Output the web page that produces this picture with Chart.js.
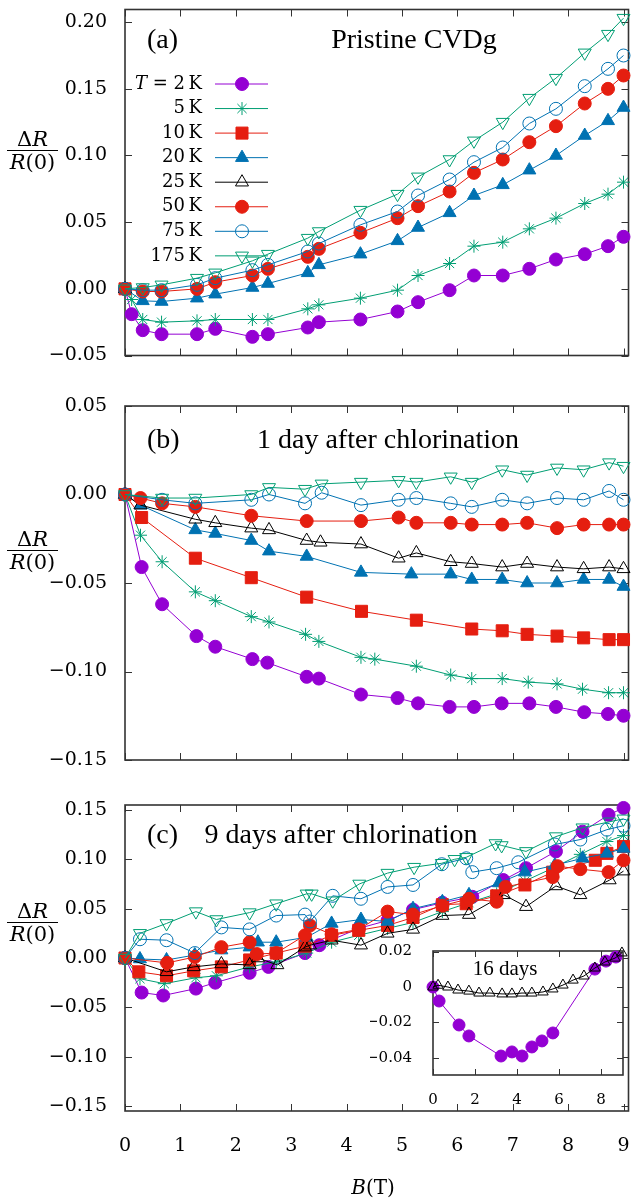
<!DOCTYPE html>
<html>
<head>
<meta charset="utf-8">
<script src="https://cdn.jsdelivr.net/npm/chart.js@4/dist/chart.umd.min.js"></script>
<style>
  body { margin: 0; background: #fff; width: 638px; height: 1204px; position: relative; overflow: hidden; }
  canvas { position: absolute; }
  .t { position: absolute; font: 28px 'Liberation Serif', serif; line-height: 1; transform: translateY(-50%); white-space: nowrap; z-index: 5; }
  .t.c { transform: translate(-50%, -50%); }
  .frac { position: absolute; left: 7px; width: 51px; font: 21px 'DejaVu Serif', serif; text-align: center; line-height: 22px; z-index: 5; }
  .frac .bar { height: 1px; background: #000; }
  .ax { position: absolute; font: 20px 'DejaVu Serif', serif; line-height: 1; transform: translate(-50%, -50%); white-space: nowrap; z-index: 5; }
</style>
</head>
<body>
<canvas id="panelA" width="638" height="365" style="left:0;top:0"></canvas>
<canvas id="panelB" width="638" height="375" style="left:0;top:395px"></canvas>
<canvas id="panelC" width="638" height="409" style="left:0;top:795px"></canvas>
<canvas id="inset" width="268" height="175" style="left:370px;top:935px"></canvas>

<div class="t" style="left:147px;top:39px">(a)</div>
<div class="t c" style="left:414px;top:39px">Pristine CVDg</div>
<div class="t" style="left:147px;top:439px">(b)</div>
<div class="t c" style="left:388px;top:439px">1 day after chlorination</div>
<div class="t" style="left:147px;top:834px">(c)</div>
<div class="t c" style="left:341px;top:834px">9 days after chlorination</div>
<div class="t c" style="left:505px;top:968px;font-size:21px">16 days</div>

<div class="frac" style="top:128px"><div>Δ<i>R</i></div><div class="bar"></div><div><i>R</i>(0)</div></div>
<div class="frac" style="top:528px"><div>Δ<i>R</i></div><div class="bar"></div><div><i>R</i>(0)</div></div>
<div class="frac" style="top:900px"><div>Δ<i>R</i></div><div class="bar"></div><div><i>R</i>(0)</div></div>
<div class="ax" style="left:373px;top:1187px"><i>B</i>(T)</div>

<script>
// tick labels
const xTicks = [0, 1, 2, 3, 4, 5, 6, 7, 8, 9];
const yTicksA = [-0.05, 0, 0.05, 0.10, 0.15, 0.20];
const yTicksB = [-0.15, -0.10, -0.05, 0, 0.05];
const yTicksC = [-0.15, -0.10, -0.05, 0, 0.05, 0.10, 0.15];
const insetXTicks = [0, 2, 4, 6, 8];
const insetYTicks = [-0.04, -0.02, 0, 0.02];
const temperatures = ['2', '5', '10', '20', '25', '50', '75', '175'];

// (a) pristine CVDg
const a2K_B = [0, 0.12, 0.32, 0.66, 1.3, 1.63, 2.3, 2.58, 3.3, 3.5, 4.25, 4.92, 5.29, 5.86, 6.3, 6.82, 7.3, 7.78, 8.3, 8.72, 9.0];
const a2K_R = [0, -0.019, -0.031, -0.034, -0.034, -0.030, -0.036, -0.034, -0.029, -0.025, -0.023, -0.017, -0.010, -0.001, 0.010, 0.010, 0.015, 0.022, 0.026, 0.032, 0.039];
const a5K_B = [0, 0.12, 0.32, 0.66, 1.3, 1.63, 2.3, 2.58, 3.3, 3.5, 4.25, 4.92, 5.29, 5.86, 6.3, 6.82, 7.3, 7.78, 8.3, 8.72, 9.0];
const a5K_R = [0, -0.008, -0.023, -0.025, -0.024, -0.023, -0.023, -0.023, -0.015, -0.012, -0.007, -0.001, 0.010, 0.019, 0.032, 0.035, 0.045, 0.053, 0.064, 0.071, 0.080];
const a10K_B = [0];
const a10K_R = [0];
const a20K_B = [0, 0.32, 0.66, 1.3, 1.63, 2.3, 2.58, 3.3, 3.5, 4.25, 4.92, 5.29, 5.86, 6.3, 6.82, 7.3, 7.78, 8.3, 8.72, 9.0];
const a20K_R = [0, -0.009, -0.0095, -0.007, -0.004, 0.001, 0.004, 0.012, 0.018, 0.026, 0.036, 0.046, 0.057, 0.070, 0.078, 0.089, 0.100, 0.115, 0.126, 0.136];
const a25K_B = [0];
const a25K_R = [0];
const a50K_B = [0, 0.32, 0.66, 1.3, 1.63, 2.3, 2.58, 3.3, 3.5, 4.25, 4.92, 5.29, 5.86, 6.3, 6.82, 7.3, 7.78, 8.3, 8.72, 9.0];
const a50K_R = [0, -0.002, -0.002, 0.000, 0.005, 0.010, 0.015, 0.024, 0.030, 0.042, 0.053, 0.062, 0.073, 0.087, 0.097, 0.110, 0.122, 0.139, 0.150, 0.160];
const a75K_B = [0, 0.32, 0.66, 1.3, 1.63, 2.3, 2.58, 3.3, 3.5, 4.25, 4.92, 5.29, 5.86, 6.3, 6.82, 7.3, 7.78, 8.3, 8.72, 9.0];
const a75K_R = [0, -0.001, -0.001, 0.003, 0.008, 0.014, 0.018, 0.028, 0.034, 0.048, 0.058, 0.070, 0.082, 0.095, 0.106, 0.124, 0.135, 0.152, 0.165, 0.175];
const a175K_B = [0, 0.32, 0.66, 1.3, 1.63, 2.3, 2.58, 3.3, 3.5, 4.25, 4.92, 5.29, 5.86, 6.3, 6.82, 7.3, 7.78, 8.3, 8.72, 9.0];
const a175K_R = [0, 0.001, 0.003, 0.008, 0.012, 0.021, 0.026, 0.038, 0.043, 0.059, 0.071, 0.084, 0.097, 0.111, 0.125, 0.143, 0.158, 0.177, 0.191, 0.203];

// (b) 1 day after chlorination
const b2K_B = [0, 0.30, 0.67, 1.29, 1.63, 2.3, 2.57, 3.28, 3.5, 4.26, 4.92, 5.29, 5.86, 6.30, 6.80, 7.30, 7.78, 8.29, 8.72, 9.0];
const b2K_R = [0, -0.041, -0.062, -0.080, -0.086, -0.093, -0.095, -0.103, -0.104, -0.113, -0.115, -0.118, -0.120, -0.120, -0.118, -0.118, -0.120, -0.123, -0.124, -0.125];
const b5K_B = [0, 0.28, 0.67, 1.27, 1.63, 2.28, 2.6, 3.26, 3.5, 4.26, 4.51, 5.26, 5.88, 6.26, 6.81, 7.28, 7.80, 8.26, 8.73, 9.0];
const b5K_R = [0, -0.023, -0.038, -0.055, -0.060, -0.069, -0.072, -0.079, -0.083, -0.092, -0.093, -0.097, -0.102, -0.104, -0.104, -0.106, -0.107, -0.110, -0.112, -0.112];
const b10K_B = [0, 0.30, 1.27, 2.28, 3.28, 4.27, 5.26, 6.26, 6.81, 7.26, 7.80, 8.28, 8.74, 9.0];
const b10K_R = [0, -0.013, -0.036, -0.047, -0.058, -0.066, -0.071, -0.076, -0.077, -0.079, -0.080, -0.081, -0.082, -0.082];
const b20K_B = [0, 0.28, 1.27, 1.63, 2.28, 2.6, 3.28, 4.26, 5.17, 5.88, 6.26, 6.81, 7.26, 7.80, 8.28, 8.74, 9.0];
const b20K_R = [0, -0.006, -0.020, -0.022, -0.026, -0.032, -0.035, -0.044, -0.045, -0.045, -0.048, -0.048, -0.050, -0.050, -0.048, -0.048, -0.052];
const b25K_B = [0, 0.28, 1.27, 1.63, 2.28, 2.6, 3.28, 3.53, 4.26, 4.94, 5.26, 5.88, 6.26, 6.81, 7.26, 7.80, 8.28, 8.74, 9.0];
const b25K_R = [0, -0.006, -0.014, -0.016, -0.019, -0.020, -0.026, -0.027, -0.028, -0.036, -0.033, -0.038, -0.039, -0.041, -0.039, -0.041, -0.042, -0.041, -0.042];
const b50K_B = [0, 0.28, 0.67, 1.27, 2.28, 3.28, 4.26, 4.94, 5.26, 5.88, 6.26, 6.81, 7.26, 7.80, 8.28, 8.74, 9.0];
const b50K_R = [0, -0.002, -0.005, -0.007, -0.012, -0.015, -0.015, -0.013, -0.016, -0.016, -0.017, -0.017, -0.016, -0.019, -0.017, -0.017, -0.017];
const b75K_B = [0, 0.67, 1.27, 2.28, 2.6, 3.25, 3.55, 4.26, 4.94, 5.26, 5.88, 6.26, 6.81, 7.26, 7.80, 8.28, 8.74, 9.0];
const b75K_R = [0, -0.003, -0.005, -0.003, 0.000, -0.005, 0.001, -0.006, -0.003, -0.002, -0.005, -0.007, -0.003, -0.005, -0.002, -0.003, 0.002, -0.003];
const b175K_B = [0, 0.67, 1.27, 2.28, 2.6, 3.25, 3.55, 4.26, 4.94, 5.26, 5.88, 6.26, 6.81, 7.26, 7.80, 8.28, 8.74, 9.0];
const b175K_R = [0, -0.002, -0.002, 0.000, 0.004, 0.003, 0.006, 0.007, 0.008, 0.007, 0.010, 0.007, 0.014, 0.011, 0.015, 0.014, 0.018, 0.016];

// (c) 9 days after chlorination
const c2K_B = [0, 0.3, 0.69, 1.28, 1.63, 2.25, 2.59, 3.25, 3.51, 4.22, 4.74, 5.2, 5.73, 6.27, 6.83, 7.24, 7.78, 8.26, 8.73, 9.0];
const c2K_R = [0, -0.035, -0.038, -0.031, -0.025, -0.015, -0.009, 0.005, 0.013, 0.030, 0.038, 0.049, 0.056, 0.062, 0.079, 0.091, 0.108, 0.128, 0.145, 0.152];
const c5K_B = [0, 0.27, 0.71, 1.28, 1.65, 2.25, 2.73, 3.28, 3.73, 4.22, 4.74, 5.2, 5.73, 6.21, 6.71, 7.22, 7.76, 8.22, 8.7, 9.0];
const c5K_R = [0, -0.021, -0.026, -0.020, -0.018, -0.009, -0.004, 0.005, 0.016, 0.023, 0.030, 0.036, 0.047, 0.056, 0.065, 0.078, 0.092, 0.105, 0.118, 0.124];
const c10K_B = [0, 0.25, 0.75, 1.24, 1.74, 2.25, 2.73, 3.25, 3.73, 4.22, 4.74, 5.2, 5.73, 6.16, 6.71, 7.22, 7.72, 8.49, 8.70, 9.0];
const c10K_R = [0, -0.014, -0.018, -0.013, -0.009, -0.002, 0.005, 0.012, 0.023, 0.028, 0.033, 0.041, 0.054, 0.055, 0.063, 0.074, 0.087, 0.099, 0.106, 0.113];
const c20K_B = [0, 0.27, 0.75, 1.26, 1.74, 2.25, 2.4, 2.73, 3.28, 3.73, 4.26, 4.74, 5.2, 5.73, 6.21, 6.75, 7.22, 7.76, 8.26, 8.70, 9.0];
const c20K_R = [0, -0.001, -0.002, 0.003, 0.008, 0.011, 0.016, 0.016, 0.021, 0.035, 0.039, 0.037, 0.050, 0.057, 0.064, 0.076, 0.087, 0.094, 0.101, 0.106, 0.111];
const c25K_B = [0, 0.75, 1.24, 1.74, 2.25, 2.4, 2.75, 3.25, 3.34, 3.73, 4.26, 4.74, 5.2, 5.73, 6.21, 6.84, 7.24, 7.78, 8.22, 8.75, 9.0];
const c25K_R = [0, -0.014, -0.009, -0.006, -0.007, 0.000, -0.007, 0.011, 0.013, 0.018, 0.013, 0.025, 0.029, 0.043, 0.044, 0.064, 0.052, 0.073, 0.064, 0.079, 0.088];
const c50K_B = [0, 0.76, 1.26, 1.74, 2.25, 2.38, 2.73, 3.25, 3.34, 3.73, 4.22, 4.74, 5.2, 5.73, 6.21, 6.71, 6.87, 7.72, 7.81, 8.22, 8.73, 9.0];
const c50K_R = [0, -0.005, 0.001, 0.011, 0.016, 0.004, 0.005, 0.023, 0.033, 0.024, 0.029, 0.047, 0.044, 0.053, 0.060, 0.057, 0.072, 0.082, 0.093, 0.090, 0.087, 0.099];
const c75K_B = [0, 0.27, 0.75, 1.26, 1.74, 2.25, 2.73, 3.25, 3.34, 3.75, 4.26, 4.74, 5.2, 5.72, 6.16, 6.27, 6.71, 7.1, 7.76, 8.22, 8.70, 9.0];
const c75K_R = [0, 0.019, 0.018, 0.005, 0.031, 0.029, 0.043, 0.044, 0.037, 0.063, 0.060, 0.072, 0.074, 0.095, 0.101, 0.087, 0.091, 0.097, 0.115, 0.120, 0.130, 0.134];
const c175K_B = [0, 0.27, 0.75, 1.28, 1.65, 2.25, 2.73, 3.28, 3.37, 3.75, 4.23, 4.74, 5.22, 5.72, 5.95, 6.16, 6.69, 6.80, 7.24, 7.78, 8.26, 8.75, 9.0];
const c175K_R = [0, 0.025, 0.035, 0.047, 0.039, 0.046, 0.055, 0.065, 0.065, 0.058, 0.075, 0.086, 0.092, 0.096, 0.100, 0.102, 0.116, 0.114, 0.108, 0.123, 0.132, 0.138, 0.141];

// inset: 16 days
const in2K_B = [0, 0.29, 1.24, 1.71, 3.24, 3.76, 4.24, 4.71, 5.19, 5.71, 7.71, 8.24, 8.71];
const in2K_R = [0, -0.0079, -0.0214, -0.0276, -0.0389, -0.0366, -0.0389, -0.0338, -0.0304, -0.0259, 0.0101, 0.0146, 0.0169];
const in25K_B = [0, 0.24, 0.71, 1.19, 1.71, 2.19, 2.71, 3.29, 3.76, 4.24, 4.71, 5.24, 5.71, 6.19, 6.67, 7.19, 7.71, 8.19, 8.67, 9.0];
const in25K_R = [0, 0.001, 0, -0.0017, -0.0023, -0.0034, -0.0034, -0.0039, -0.0039, -0.0034, -0.0034, -0.0028, -0.0011, 0.0011, 0.0039, 0.0062, 0.0107, 0.0141, 0.0163, 0.0192];

const STYLES = [
  { color: '#9400d3', point: 'circle', fill: true, r: 6.5 },
  { color: '#009e73', point: 'star', fill: false, r: 6.5 },
  { color: '#e51e10', point: 'rect', fill: true, r: 8.5 },
  { color: '#0072b2', point: 'triangle', fill: true, r: 7.5 },
  { color: '#000000', point: 'triangle', fill: false, r: 7.5 },
  { color: '#e51e10', point: 'circle', fill: true, r: 6.5 },
  { color: '#0072b2', point: 'circle', fill: false, r: 6.5 },
  { color: '#009e73', point: 'triangle', fill: false, r: 7.5, rot: 180 },
];

const TICK_FONT = { family: 'DejaVu Serif', size: 19 };

function toPoints(bs, rs) {
  return bs.map((b, i) => ({ x: b, y: rs[i] }));
}

function makeDataset(bs, rs, i, label, scale = 1) {
  const s = STYLES[i];
  return {
    label,
    data: toPoints(bs, rs),
    borderColor: s.color,
    backgroundColor: s.color,
    borderWidth: 1,
    pointStyle: s.point,
    pointRadius: s.r * scale,
    pointRotation: s.rot || 0,
    pointBackgroundColor: s.fill ? s.color : 'rgba(0,0,0,0)',
    pointBorderColor: s.color,
    pointBorderWidth: 1,
    tension: 0,
    clip: false,
    order: -i,
  };
}

function buildDatasets(series) {
  return series.map(([bs, rs], i) => makeDataset(bs, rs, i, temperatures[i] + ' K'));
}

function fmt(v) {
  return v.toFixed(2).replace('-', '\u2212');
}

const framePlugin = {
  id: 'frame',
  beforeDatasetsDraw(chart, args, opts) {
    const { ctx, chartArea: a } = chart;
    const x = chart.scales.x, y = chart.scales.y;
    const len = opts.tick || 7;
    ctx.save();
    if (opts.fill) {
      ctx.fillStyle = '#fff';
      ctx.fillRect(a.left, a.top, a.right - a.left, a.bottom - a.top);
    }
    ctx.strokeStyle = '#333';
    ctx.lineWidth = 1;
    ctx.beginPath();
    x.ticks.forEach(t => {
      const px = Math.round(x.getPixelForValue(t.value)) + 0.5;
      ctx.moveTo(px, a.bottom); ctx.lineTo(px, a.bottom - len);
      ctx.moveTo(px, a.top); ctx.lineTo(px, a.top + len);
    });
    y.ticks.forEach(t => {
      const py = Math.round(y.getPixelForValue(t.value)) + 0.5;
      ctx.moveTo(a.left, py); ctx.lineTo(a.left + len, py);
      ctx.moveTo(a.right, py); ctx.lineTo(a.right - len, py);
    });
    ctx.stroke();
    ctx.lineWidth = 1.6;
    ctx.strokeRect(a.left, a.top, a.right - a.left, a.bottom - a.top);
    ctx.restore();
  },
};

// legend of panel (a): text on the left, line sample with marker on the right
const sideLegend = {
  id: 'sideLegend',
  afterDatasetsDraw(chart) {
    const ctx = chart.ctx;
    ctx.save();
    chart.data.datasets.forEach((ds, i) => {
      const y = 84 + i * 24.55;
      ctx.strokeStyle = ds.borderColor;
      ctx.lineWidth = 1;
      ctx.beginPath();
      ctx.moveTo(215, y);
      ctx.lineTo(268, y);
      ctx.stroke();
      ctx.fillStyle = ds.pointBackgroundColor;
      ctx.strokeStyle = ds.pointBorderColor;
      Chart.helpers.drawPoint(ctx, {
        pointStyle: ds.pointStyle, rotation: ds.pointRotation, radius: ds.pointRadius, borderWidth: 1,
      }, 242, y);

      ctx.fillStyle = '#000';
      ctx.textBaseline = 'middle';
      ctx.textAlign = 'right';
      ctx.font = '18px "DejaVu Serif"';
      const txt = (i === 0 ? ' = ' : '') + temperatures[i] + '\u2009K';
      ctx.fillText(txt, 202, y);
      if (i === 0) {
        const w = ctx.measureText(txt).width;
        ctx.font = 'italic 18px "DejaVu Serif"';
        ctx.fillText('T', 202 - w, y);
      }
    });
    ctx.restore();
  },
};

function makePanel(id, datasets, cfg) {
  return new Chart(document.getElementById(id), {
    type: 'line',
    data: { datasets },
    options: {
      responsive: false,
      animation: false,
      events: [],
      layout: { padding: cfg.padding },
      plugins: {
        legend: { display: false },
        tooltip: { enabled: false },
        frame: { tick: cfg.tickLen || 7, fill: !!cfg.fill },
      },
      scales: {
        x: {
          type: 'linear',
          min: cfg.xMin,
          max: cfg.xMax,
          grid: { display: false },
          border: { display: false },
          afterBuildTicks: s => { s.ticks = cfg.xTicks.map(v => ({ value: v })); },
          ticks: {
            display: cfg.showX,
            autoSkip: false,
            maxRotation: 0,
            color: '#000',
            font: cfg.font || TICK_FONT,
            padding: cfg.xPad,
            callback: v => String(v),
          },
          afterFit: s => { s.height = cfg.xHeight; s.paddingLeft = 0; s.paddingRight = 0; },
        },
        y: {
          type: 'linear',
          min: cfg.yMin,
          max: cfg.yMax,
          grid: { display: false },
          border: { display: false },
          afterBuildTicks: s => { s.ticks = cfg.yTicks.map(v => ({ value: v })); },
          ticks: {
            autoSkip: false,
            color: '#000',
            font: cfg.font || TICK_FONT,
            padding: cfg.yPad,
            callback: cfg.yFmt || fmt,
          },
          afterFit: s => { s.width = cfg.yWidth; s.paddingTop = 0; s.paddingBottom = 0; },
        },
      },
    },
    plugins: [framePlugin].concat(cfg.extra || []),
  });
}

makePanel('panelA', buildDatasets([
  [a2K_B, a2K_R], [a5K_B, a5K_R], [a10K_B, a10K_R], [a20K_B, a20K_R],
  [a25K_B, a25K_R], [a50K_B, a50K_R], [a75K_B, a75K_R], [a175K_B, a175K_R],
]), {
  padding: { top: 6, bottom: 5, left: 0, right: 1 },
  xMin: 0, xMax: 9.09, xTicks, showX: false, xHeight: 0, xPad: 0,
  yMin: -0.05, yMax: 0.2095, yTicks: yTicksA, yWidth: 125, yPad: 10,
  extra: [sideLegend],
});

makePanel('panelB', buildDatasets([
  [b2K_B, b2K_R], [b5K_B, b5K_R], [b10K_B, b10K_R], [b20K_B, b20K_R],
  [b25K_B, b25K_R], [b50K_B, b50K_R], [b75K_B, b75K_R], [b175K_B, b175K_R],
]), {
  padding: { top: 11, bottom: 10, left: 0, right: 1 },
  xMin: 0, xMax: 9.09, xTicks, showX: false, xHeight: 0, xPad: 0,
  yMin: -0.15, yMax: 0.05, yTicks: yTicksB, yWidth: 125, yPad: 10,
});

makePanel('panelC', buildDatasets([
  [c2K_B, c2K_R], [c5K_B, c5K_R], [c10K_B, c10K_R], [c20K_B, c20K_R],
  [c25K_B, c25K_R], [c50K_B, c50K_R], [c75K_B, c75K_R], [c175K_B, c175K_R],
]), {
  padding: { top: 10, bottom: 0, left: 0, right: 1 },
  xMin: 0, xMax: 9.09, xTicks, showX: true, xHeight: 93, xPad: 16,
  yMin: -0.155, yMax: 0.155, yTicks: yTicksC, yWidth: 125, yPad: 10,
});

makePanel('inset', [
  makeDataset(in2K_B, in2K_R, 0, '2 K', 0.92),
  makeDataset(in25K_B, in25K_R, 4, '25 K', 0.8),
], {
  padding: { top: 16, bottom: 0, left: 0, right: 15 },
  xMin: 0, xMax: 9.05, xTicks: insetXTicks, showX: true, xHeight: 35, xPad: 8,
  yMin: -0.0496, yMax: 0.0203, yTicks: insetYTicks, yWidth: 63, yPad: 13,
  yFmt: v => (v === 0 ? '0' : fmt(v)),
  font: { family: 'DejaVu Serif', size: 15 },
  tickLen: 6,
  fill: true,
});
</script>
</body>
</html>
